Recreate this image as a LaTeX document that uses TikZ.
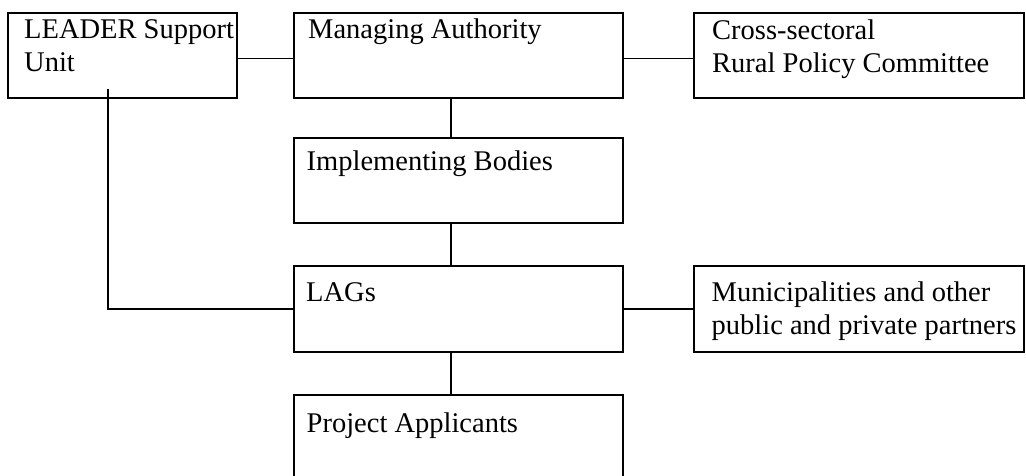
\documentclass[tikz,border=0pt]{standalone}
\usepackage{fontspec}
\setmainfont{Liberation Serif}
\usepackage{tikz}

\tikzset{
    box/.style={draw, line width=1.8pt, rectangle, minimum width=329pt, minimum height=85pt, inner sep=0pt},
    txt/.style={anchor=base west, inner sep=0pt, align=left, font=\fontsize{28.5}{33}\selectfont},
    wire/.style={line width=1.8pt}
}

\begin{document}
\begin{tikzpicture}[x=1pt, y=-1pt]
    	% Frame of the picture:
    	\useasboundingbox (0, 0) rectangle (1026, 475);
    	\clip (0, 0) rectangle (1026, 475);
    	% Boxes:
    	\draw node[box, minimum width=229pt] (LSU) at (122.5, 55.5) {};
    	\draw node[box] (MA) at (458.5, 55.5) {};
    	\draw node[box, minimum width=330pt] (RPC) at (859, 55.5) {};
    	\draw node[box] (IB) at (458.5, 180.5) {};
    	\draw node[box, minimum height=86pt] (LAG) at (458.5, 309) {};
    	\draw node[box, minimum width=330pt, minimum height=86pt] (MUN) at (859, 309) {};
    	\draw node[box, minimum height=96pt] (PA) at (458.5, 443) {};
    	% Texts (base of the last line):
    	\draw node[txt] (LSUt) at (24, 71) {LEADER Support\\Unit};
    	\draw node[txt] (MAt) at (308, 38) {Managing Authority};
    	\draw node[txt] (RPCt) at (712, 72) {Cross-sectoral\\Rural Policy Committee};
    	\draw node[txt] (IBt) at (306.5, 170) {Implementing Bodies};
    	\draw node[txt] (LAGt) at (306, 301) {LAGs};
    	\draw node[txt] (MUNt) at (711.5, 334) {Municipalities and other\\public and private partners};
    	\draw node[txt] (PAt) at (306.5, 432) {Project Applicants};
    	% Wires:
    	\coordinate (J1) at (108, 89);
    	\draw[wire] ([yshift=-3pt]LSU.east) -- ([yshift=-3pt]MA.west);
    	\draw[wire] ([yshift=-3pt]MA.east) -- ([yshift=-3pt]RPC.west);
    	\draw[wire] ([xshift=-7.5pt]MA.south) -- ([xshift=-7.5pt]IB.north);
    	\draw[wire] ([xshift=-7.5pt]IB.south) -- ([xshift=-7.5pt]LAG.north);
    	\draw[wire] ([xshift=-7.5pt]LAG.south) -- ([xshift=-7.5pt]PA.north);
    	\draw[wire] (J1) |- (LAG.west);
    	\draw[wire] (LAG.east) -- (MUN.west);
    \end{tikzpicture}
\end{document}
